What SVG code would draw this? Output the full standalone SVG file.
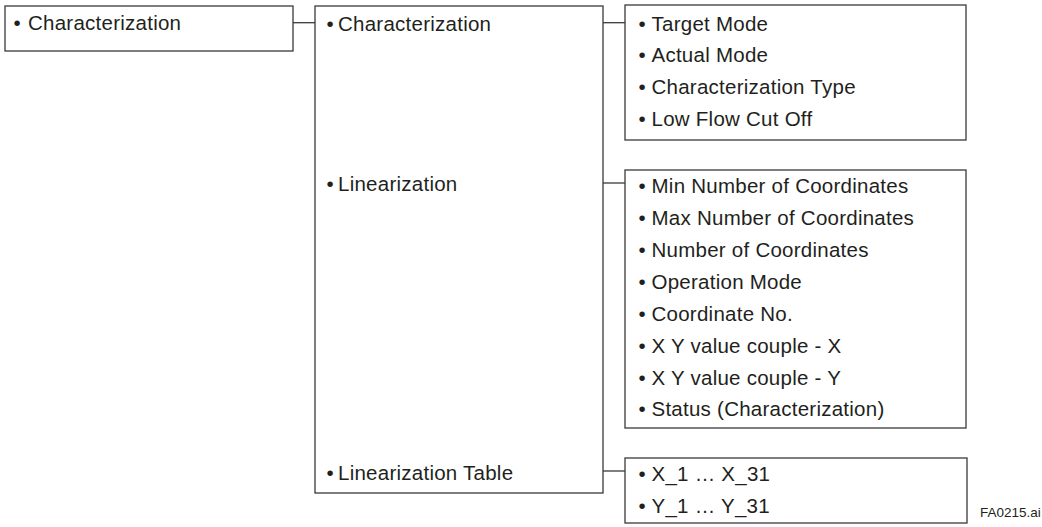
<svg xmlns="http://www.w3.org/2000/svg" width="1042" height="527" viewBox="0 0 1042 527">
<style>
.box{fill:#fff;stroke:#3a3a3a;stroke-width:1.3}
.t{font-family:"Liberation Sans",Arial,sans-serif;font-size:20.5px;letter-spacing:0.25px;fill:#231f20}
.c{fill:none;stroke:#3a3a3a;stroke-width:1.3}
.f{font-family:"Liberation Sans",Arial,sans-serif;font-size:13.5px;fill:#231f20}
</style>
<rect width="1042" height="527" fill="#fff"/>
<g id="connectors">
<line class="c" x1="293" y1="22.7" x2="315" y2="22.7"/>
<line class="c" x1="603" y1="22.7" x2="625" y2="22.7"/>
<line class="c" x1="603" y1="183" x2="625" y2="183"/>
<line class="c" x1="603" y1="471" x2="625" y2="471"/>
</g>
<g id="root">
<rect class="box" x="5" y="6" width="288" height="45"/>
<text class="t" y="30"><tspan x="13.4">•</tspan><tspan x="28">Characterization</tspan></text>
</g>
<g id="menu">
<rect class="box" x="315" y="6" width="288" height="487"/>
<text class="t" y="31"><tspan x="326.4">•</tspan><tspan x="338">Characterization</tspan></text>
<text class="t" y="191"><tspan x="326.4">•</tspan><tspan x="338">Linearization</tspan></text>
<text class="t" y="480"><tspan x="326.4">•</tspan><tspan x="338">Linearization Table</tspan></text>
</g>
<g id="characterization">
<rect class="box" x="625" y="5" width="341" height="135"/>
<text class="t" y="30.5"><tspan x="638.4">•</tspan><tspan x="651.5">Target Mode</tspan></text>
<text class="t" y="62"><tspan x="638.4">•</tspan><tspan x="651.5">Actual Mode</tspan></text>
<text class="t" y="94"><tspan x="638.4">•</tspan><tspan x="651.5">Characterization Type</tspan></text>
<text class="t" y="126"><tspan x="638.4">•</tspan><tspan x="651.5">Low Flow Cut Off</tspan></text>
</g>
<g id="linearization">
<rect class="box" x="625" y="170" width="341" height="258"/>
<text class="t" y="193"><tspan x="638.4">•</tspan><tspan x="651.5">Min Number of Coordinates</tspan></text>
<text class="t" y="225"><tspan x="638.4">•</tspan><tspan x="651.5">Max Number of Coordinates</tspan></text>
<text class="t" y="257"><tspan x="638.4">•</tspan><tspan x="651.5">Number of Coordinates</tspan></text>
<text class="t" y="289"><tspan x="638.4">•</tspan><tspan x="651.5">Operation Mode</tspan></text>
<text class="t" y="321"><tspan x="638.4">•</tspan><tspan x="651.5">Coordinate No.</tspan></text>
<text class="t" y="353"><tspan x="638.4">•</tspan><tspan x="651.5">X Y value couple - X</tspan></text>
<text class="t" y="385"><tspan x="638.4">•</tspan><tspan x="651.5">X Y value couple - Y</tspan></text>
<text class="t" y="416"><tspan x="638.4">•</tspan><tspan x="651.5">Status (Characterization)</tspan></text>
</g>
<g id="table">
<rect class="box" x="625" y="458" width="342" height="65"/>
<text class="t" y="481"><tspan x="638.4">•</tspan><tspan x="651.5">X_1 … X_31</tspan></text>
<text class="t" y="513"><tspan x="638.4">•</tspan><tspan x="651.5">Y_1 … Y_31</tspan></text>
</g>
<text class="f" x="980" y="517">FA0215.ai</text>
</svg>
